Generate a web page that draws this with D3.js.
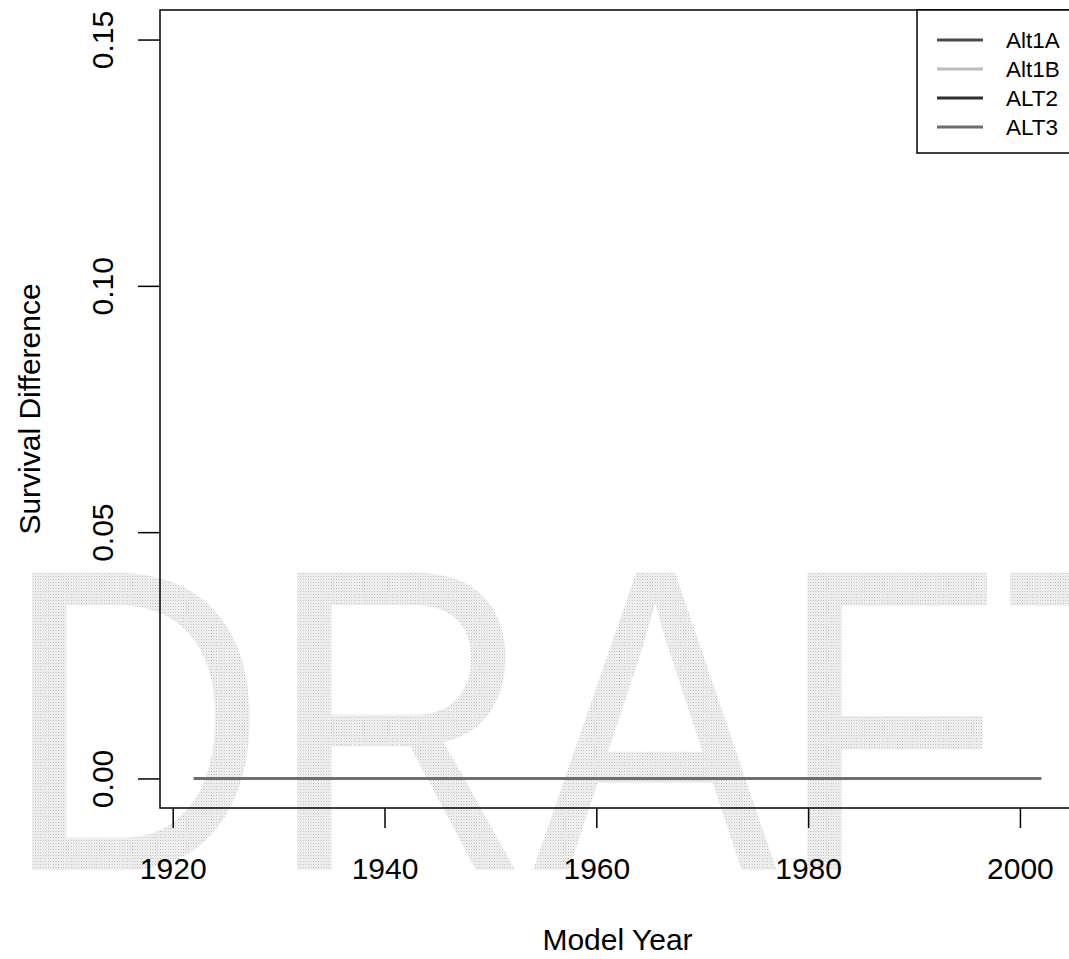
<!DOCTYPE html>
<html>
<head>
<meta charset="utf-8">
<script src="https://cdn.jsdelivr.net/npm/d3@7"></script>
<style>
  body { margin: 0; background: #fff; }
  svg { display: block; font-family: "Liberation Sans", Arial, Helvetica, sans-serif; }
</style>
</head>
<body>
<div id="chart"></div>
<script>
// model years on the x axis
const years = [1922, 1927, 1932, 1937, 1942, 1947, 1952, 1957, 1962, 1967, 1972, 1977, 1982, 1987, 1992, 1997, 2002];

// survival difference per alternative (all flat at zero)
const alt1A = [0, 0, 0, 0, 0, 0, 0, 0, 0, 0, 0, 0, 0, 0, 0, 0, 0];
const alt1B = [0, 0, 0, 0, 0, 0, 0, 0, 0, 0, 0, 0, 0, 0, 0, 0, 0];
const alt2  = [0, 0, 0, 0, 0, 0, 0, 0, 0, 0, 0, 0, 0, 0, 0, 0, 0];
const alt3  = [0, 0, 0, 0, 0, 0, 0, 0, 0, 0, 0, 0, 0, 0, 0, 0, 0];

const seriesNames = ["Alt1A", "Alt1B", "ALT2", "ALT3"];
const seriesColors = ["#4a4a4a", "#bdbdbd", "#2e2e2e", "#6e6e6e"];

const xTicks = [1920, 1940, 1960, 1980, 2000];
const yTicks = [0.00, 0.05, 0.10, 0.15];

const W = 1069, H = 959;
const plot = {left: 160, top: 10, right: 1075, bottom: 808};

const svg = d3.select('#chart').append('svg')
    .attr('width', W)
    .attr('height', H);

// halftone-ish fill for the watermark
const defs = svg.append('defs');
const pat = defs.append('pattern')
    .attr('id', 'dots')
    .attr('patternUnits', 'userSpaceOnUse')
    .attr('width', 3).attr('height', 3);
pat.append('rect').attr('width', 3).attr('height', 3).attr('fill', '#f3f3f3');
pat.append('rect').attr('width', 1).attr('height', 1).attr('fill', '#b4b4b4');
pat.append('rect').attr('x', 1.5).attr('y', 1.5).attr('width', 1).attr('height', 1).attr('fill', '#d6d6d6');

// DRAFT watermark
svg.append('text')
    .attr('transform', 'translate(2, 870) scale(0.85, 1)')
    .attr('font-size', 432)
    .attr('fill', 'url(#dots)')
    .text('DRAFT');

// scales, padded the way R pads its ranges
const x = d3.scaleLinear()
    .domain([1918.8, 2005.2])
    .range([plot.left, plot.right]);

const y = d3.scaleLinear()
    .domain([-0.006, 0.156])
    .range([plot.bottom, plot.top]);

// data lines
const allSeries = [alt1A, alt1B, alt2, alt3];
const line = d3.line()
    .x((d, i) => x(years[i]))
    .y(d => y(d));

svg.append('g')
    .selectAll('path')
    .data(allSeries)
    .enter()
    .append('path')
    .attr('d', d => line(d))
    .attr('fill', 'none')
    .attr('stroke', (d, i) => seriesColors[i])
    .attr('stroke-width', 3);

// x axis
const xAxis = svg.append('g')
    .attr('transform', `translate(0, ${plot.bottom})`)
    .call(d3.axisBottom(x).tickValues(xTicks).tickSize(20).tickPadding(30).tickFormat(d3.format('d')));
xAxis.select('.domain').remove();
xAxis.selectAll('line').attr('stroke', '#000').attr('stroke-width', 1.5);
xAxis.selectAll('text')
    .attr('font-size', 30)
    .attr('font-family', '"Liberation Sans", Arial, sans-serif')
    .attr('fill', '#000');

// y axis, labels turned like R's default
const yAxis = svg.append('g')
    .attr('transform', `translate(${plot.left}, 0)`)
    .call(d3.axisLeft(y).tickValues(yTicks).tickSize(22).tickFormat(d3.format('.2f')));
yAxis.select('.domain').remove();
yAxis.selectAll('line').attr('stroke', '#000').attr('stroke-width', 1.5);
yAxis.selectAll('text')
    .attr('font-size', 30)
    .attr('font-family', '"Liberation Sans", Arial, sans-serif')
    .attr('fill', '#000')
    .attr('text-anchor', 'middle')
    .attr('dy', 0)
    .attr('transform', 'translate(-47, 0) rotate(-90)')
    .attr('x', 0);

// box
svg.append('rect')
    .attr('x', plot.left).attr('y', plot.top)
    .attr('width', plot.right - plot.left)
    .attr('height', plot.bottom - plot.top)
    .attr('fill', 'none')
    .attr('stroke', '#000')
    .attr('stroke-width', 1.5);

// axis titles
svg.append('text')
    .attr('x', (plot.left + plot.right) / 2)
    .attr('y', 950)
    .attr('text-anchor', 'middle')
    .attr('font-size', 30)
    .text('Model Year');

svg.append('text')
    .attr('transform', `translate(40, ${(plot.top + plot.bottom) / 2}) rotate(-90)`)
    .attr('text-anchor', 'middle')
    .attr('font-size', 30)
    .text('Survival Difference');

// legend
const legend = svg.append('g');
legend.append('rect')
    .attr('x', 917).attr('y', plot.top)
    .attr('width', 200).attr('height', 153 - plot.top)
    .attr('fill', '#fff')
    .attr('stroke', '#000')
    .attr('stroke-width', 1.5);

const rows = legend.selectAll('g.row')
    .data(seriesNames)
    .enter()
    .append('g')
    .attr('transform', (d, i) => `translate(0, ${40 + i * 29})`);
rows.append('line')
    .attr('x1', 937).attr('x2', 983)
    .attr('y1', 0).attr('y2', 0)
    .attr('stroke', (d, i) => seriesColors[i])
    .attr('stroke-width', 3);
rows.append('text')
    .attr('x', 1006)
    .attr('y', 8)
    .attr('font-size', 22.5)
    .text(d => d);
</script>
</body>
</html>
